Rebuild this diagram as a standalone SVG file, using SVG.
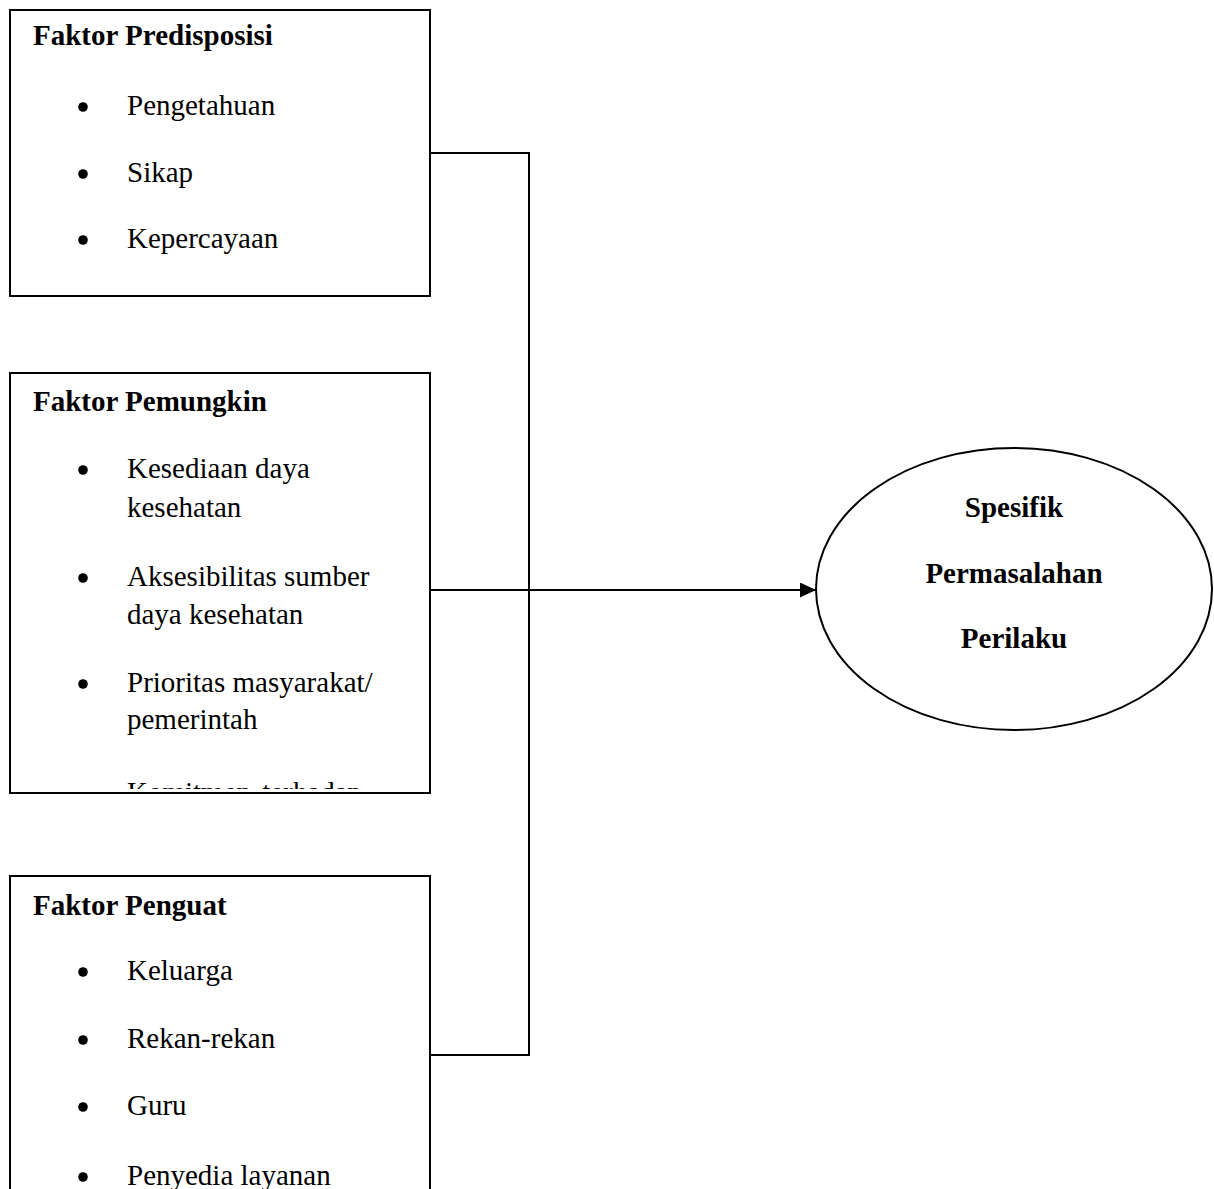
<svg xmlns="http://www.w3.org/2000/svg" width="1214" height="1189" viewBox="0 0 1214 1189">
<style>
.box{fill:#fff;stroke:#000;stroke-width:2}
.t{font-family:"Liberation Serif","Times New Roman",serif;font-size:29px;fill:#000}
.b{font-weight:bold}
.line{fill:none;stroke:#000;stroke-width:2}
</style>
<defs>
<marker id="arr" markerWidth="16" markerHeight="15" refX="16" refY="7.5" orient="auto" markerUnits="userSpaceOnUse">
<path d="M0,0 L16,7.5 L0,15 Z" fill="#000"/>
</marker>
<clipPath id="c2"><rect x="10" y="373" width="420" height="416"/></clipPath>
</defs>
<rect width="1214" height="1189" fill="#fff"/>
<g id="connectors">
<path class="line" d="M430,153 H529 V1055 H430"/>
<path class="line" d="M430,590 H816" marker-end="url(#arr)"/>
</g>
<g id="node-predisposisi">
<rect class="box" x="10" y="10" width="420" height="286"/>
<text class="t b" x="33" y="45">Faktor Predisposisi</text>
<circle cx="83" cy="107" r="4.8"/><text class="t" x="127" y="115">Pengetahuan</text>
<circle cx="83" cy="174" r="4.8"/><text class="t" x="127" y="182">Sikap</text>
<circle cx="83" cy="240" r="4.8"/><text class="t" x="127" y="248">Kepercayaan</text>
</g>
<g id="node-pemungkin">
<rect class="box" x="10" y="373" width="420" height="420"/>
<g clip-path="url(#c2)">
<text class="t b" x="33" y="411">Faktor Pemungkin</text>
<circle cx="83" cy="470" r="4.8"/><text class="t" x="127" y="478">Kesediaan daya</text>
<text class="t" x="127" y="517">kesehatan</text>
<circle cx="83" cy="578" r="4.8"/><text class="t" x="127" y="586">Aksesibilitas sumber</text>
<text class="t" x="127" y="624">daya kesehatan</text>
<circle cx="83" cy="684" r="4.8"/><text class="t" x="127" y="692">Prioritas masyarakat/</text>
<text class="t" x="127" y="729">pemerintah</text>
<circle cx="83" cy="795" r="4.8"/><text class="t" x="127" y="802" word-spacing="4">Komitmen terhadap</text>
</g>
</g>
<g id="node-penguat">
<rect class="box" x="10" y="876" width="420" height="340"/>
<text class="t b" x="33" y="915">Faktor Penguat</text>
<circle cx="83" cy="972" r="4.8"/><text class="t" x="127" y="980">Keluarga</text>
<circle cx="83" cy="1040" r="4.8"/><text class="t" x="127" y="1048">Rekan-rekan</text>
<circle cx="83" cy="1107" r="4.8"/><text class="t" x="127" y="1115">Guru</text>
<circle cx="83" cy="1177" r="4.8"/><text class="t" x="127" y="1185">Penyedia layanan</text>
</g>
<g id="node-perilaku">
<ellipse class="box" cx="1014" cy="589" rx="198" ry="141"/>
<text class="t b" x="1014" y="517" text-anchor="middle">Spesifik</text>
<text class="t b" x="1014" y="583" text-anchor="middle">Permasalahan</text>
<text class="t b" x="1014" y="648" text-anchor="middle">Perilaku</text>
</g>
</svg>
